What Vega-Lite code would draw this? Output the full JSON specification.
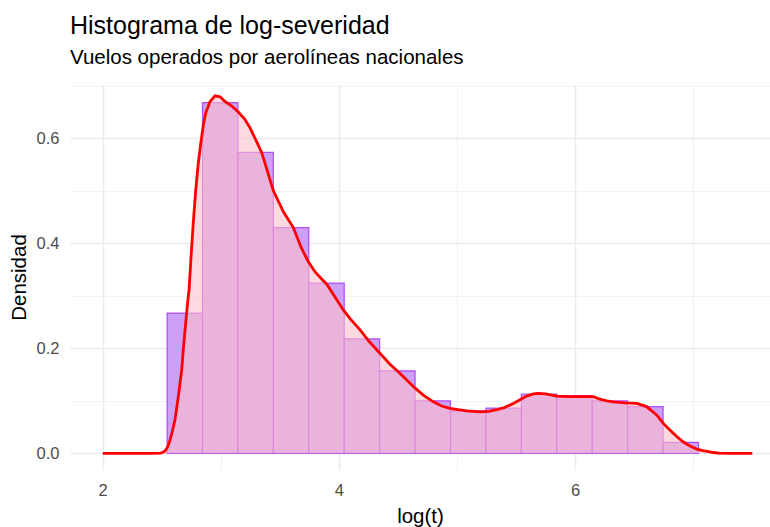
{
  "$schema": "https://vega.github.io/schema/vega-lite/v6.json",
  "autosize": "none",
  "width": 700,
  "height": 386,
  "padding": {"left": 70, "top": 84, "right": 0, "bottom": 57},
  "background": "white",
  "title": {
    "text": "Histograma de log-severidad",
    "subtitle": "Vuelos operados por aerolíneas nacionales",
    "anchor": "start",
    "frame": "group",
    "font": "Liberation Sans",
    "fontSize": 25,
    "fontWeight": "normal",
    "color": "black",
    "subtitleFont": "Liberation Sans",
    "subtitleFontSize": 20.5,
    "subtitleColor": "black",
    "subtitlePadding": 9,
    "offset": 16
  },
  "config": {
    "view": {"stroke": null},
    "axis": {
      "labelFont": "Liberation Sans",
      "titleFont": "Liberation Sans",
      "labelFontSize": 16.5,
      "titleFontSize": 20.5,
      "titleFontWeight": "normal",
      "labelColor": "#4D4D4D",
      "titleColor": "black",
      "domain": false,
      "ticks": false,
      "gridColor": "#EBEBEB"
    }
  },
  "datasets": {
    "bins": [
      {"start": 2.545, "end": 2.845, "density": 0.267},
      {"start": 2.845, "end": 3.145, "density": 0.668},
      {"start": 3.145, "end": 3.445, "density": 0.573},
      {"start": 3.445, "end": 3.745, "density": 0.430},
      {"start": 3.745, "end": 4.045, "density": 0.324},
      {"start": 4.045, "end": 4.345, "density": 0.218},
      {"start": 4.345, "end": 4.645, "density": 0.157},
      {"start": 4.645, "end": 4.945, "density": 0.100},
      {"start": 4.945, "end": 5.245, "density": 0.081},
      {"start": 5.245, "end": 5.545, "density": 0.086},
      {"start": 5.545, "end": 5.845, "density": 0.113},
      {"start": 5.845, "end": 6.145, "density": 0.110},
      {"start": 6.145, "end": 6.445, "density": 0.100},
      {"start": 6.445, "end": 6.745, "density": 0.089},
      {"start": 6.745, "end": 7.045, "density": 0.021}
    ],
    "dens": [
      {"x": 2.0, "d": 0},
      {"x": 2.4, "d": 0},
      {"x": 2.49, "d": 0.0005},
      {"x": 2.51, "d": 0.002},
      {"x": 2.53, "d": 0.005},
      {"x": 2.55, "d": 0.012},
      {"x": 2.57, "d": 0.025},
      {"x": 2.59, "d": 0.042},
      {"x": 2.612, "d": 0.064},
      {"x": 2.64, "d": 0.108},
      {"x": 2.669, "d": 0.159},
      {"x": 2.685, "d": 0.205},
      {"x": 2.705, "d": 0.254},
      {"x": 2.72, "d": 0.29},
      {"x": 2.731, "d": 0.311},
      {"x": 2.748, "d": 0.375},
      {"x": 2.767, "d": 0.44},
      {"x": 2.787, "d": 0.50},
      {"x": 2.809, "d": 0.552},
      {"x": 2.83, "d": 0.59},
      {"x": 2.852, "d": 0.625},
      {"x": 2.872, "d": 0.648},
      {"x": 2.909, "d": 0.67},
      {"x": 2.951, "d": 0.681},
      {"x": 2.993, "d": 0.679},
      {"x": 3.036, "d": 0.670},
      {"x": 3.09, "d": 0.662},
      {"x": 3.148, "d": 0.65},
      {"x": 3.2, "d": 0.637},
      {"x": 3.247, "d": 0.62},
      {"x": 3.3, "d": 0.595},
      {"x": 3.346, "d": 0.573},
      {"x": 3.445, "d": 0.50},
      {"x": 3.53, "d": 0.46},
      {"x": 3.614, "d": 0.43},
      {"x": 3.68, "d": 0.392},
      {"x": 3.741, "d": 0.365},
      {"x": 3.8, "d": 0.345},
      {"x": 3.854, "d": 0.332},
      {"x": 3.897, "d": 0.322},
      {"x": 3.96, "d": 0.30},
      {"x": 4.037, "d": 0.273},
      {"x": 4.1, "d": 0.255},
      {"x": 4.179, "d": 0.235},
      {"x": 4.26, "d": 0.212},
      {"x": 4.349, "d": 0.19},
      {"x": 4.43, "d": 0.17},
      {"x": 4.518, "d": 0.152},
      {"x": 4.645, "d": 0.124},
      {"x": 4.72, "d": 0.11},
      {"x": 4.80, "d": 0.098},
      {"x": 4.87, "d": 0.09},
      {"x": 4.94, "d": 0.0857},
      {"x": 5.01, "d": 0.083},
      {"x": 5.082, "d": 0.081},
      {"x": 5.195, "d": 0.079},
      {"x": 5.27, "d": 0.08},
      {"x": 5.336, "d": 0.083},
      {"x": 5.40, "d": 0.087},
      {"x": 5.477, "d": 0.095},
      {"x": 5.533, "d": 0.102},
      {"x": 5.59, "d": 0.109},
      {"x": 5.646, "d": 0.113},
      {"x": 5.688, "d": 0.114},
      {"x": 5.75, "d": 0.113},
      {"x": 5.844, "d": 0.109},
      {"x": 5.95, "d": 0.108},
      {"x": 6.05, "d": 0.108},
      {"x": 6.154, "d": 0.108},
      {"x": 6.21, "d": 0.103},
      {"x": 6.267, "d": 0.100},
      {"x": 6.323, "d": 0.098},
      {"x": 6.42, "d": 0.096},
      {"x": 6.522, "d": 0.095},
      {"x": 6.605, "d": 0.089},
      {"x": 6.69, "d": 0.073},
      {"x": 6.747, "d": 0.057},
      {"x": 6.80, "d": 0.045},
      {"x": 6.86, "d": 0.032},
      {"x": 6.92, "d": 0.021},
      {"x": 6.973, "d": 0.014},
      {"x": 7.03, "d": 0.008},
      {"x": 7.083, "d": 0.005},
      {"x": 7.13, "d": 0.003},
      {"x": 7.168, "d": 0.0015},
      {"x": 7.22, "d": 0.0005},
      {"x": 7.3, "d": 0},
      {"x": 7.5, "d": 0}
    ]
  },
  "layer": [
    {
      "data": {"name": "bins"},
      "mark": {"type": "bar", "fill": "#CBA0F6", "stroke": "#A020F0", "strokeWidth": 1.2, "strokeOpacity": 0.75, "clip": true},
      "encoding": {
        "x": {
          "field": "start", "type": "quantitative",
          "scale": {"domain": [1.723, 7.65], "nice": false, "zero": false},
          "axis": {
            "title": "log(t)",
            "values": [2, 3, 4, 5, 6, 7],
            "labelExpr": "datum.value % 2 == 0 ? format(datum.value, 'd') : ''",
            "labelPadding": 12,
            "titlePadding": 8,
            "gridWidth": {"condition": {"test": "datum.value % 2 == 0", "value": 1.5}, "value": 1.0},
            "gridColor": {"condition": {"test": "datum.value % 2 == 0", "value": "#EBEBEB"}, "value": "#F2F2F2"}
          }
        },
        "x2": {"field": "end"},
        "y": {
          "field": "density", "type": "quantitative",
          "scale": {"domain": [-0.0318, 0.7034], "nice": false, "zero": false},
          "axis": {
            "title": "Densidad",
            "values": [0, 0.1, 0.2, 0.3, 0.4, 0.5, 0.6, 0.7],
            "labelExpr": "round(datum.value * 10) % 2 == 0 ? format(datum.value, '.1f') : ''",
            "labelPadding": 11,
            "titlePadding": 7,
            "gridWidth": {"condition": {"test": "round(datum.value * 10) % 2 == 0", "value": 1.5}, "value": 1.0},
            "gridColor": {"condition": {"test": "round(datum.value * 10) % 2 == 0", "value": "#EBEBEB"}, "value": "#F2F2F2"}
          }
        },
        "y2": {"datum": 0}
      }
    },
    {
      "data": {"name": "dens"},
      "mark": {"type": "area", "color": "#FFC0CB", "fillOpacity": 0.6, "clip": true},
      "encoding": {
        "x": {"field": "x", "type": "quantitative"},
        "y": {"field": "d", "type": "quantitative"},
        "y2": {"datum": 0}
      }
    },
    {
      "data": {"name": "dens"},
      "mark": {"type": "line", "color": "red", "strokeWidth": 2.8, "clip": true},
      "encoding": {
        "x": {"field": "x", "type": "quantitative"},
        "y": {"field": "d", "type": "quantitative"}
      }
    }
  ]
}
